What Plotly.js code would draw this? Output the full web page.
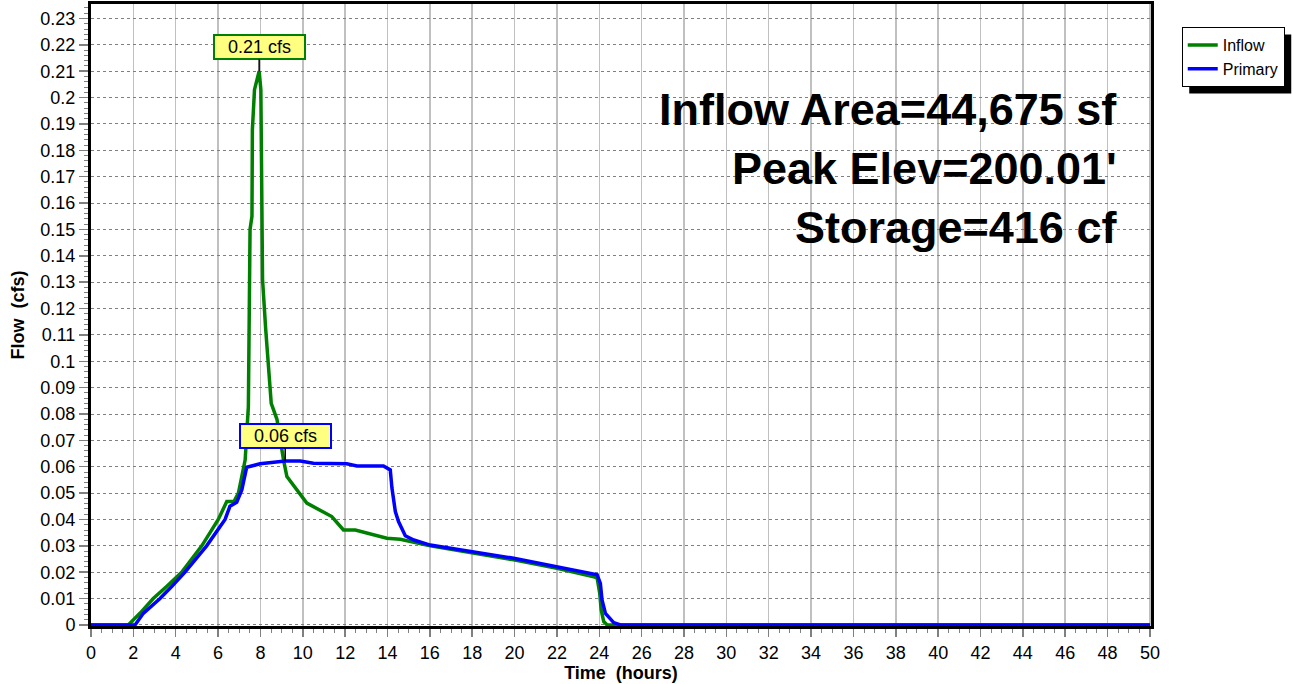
<!DOCTYPE html>
<html>
<head>
<meta charset="utf-8">
<script src="https://cdn.plot.ly/plotly-3.0.1.min.js"></script>
<style>
html,body{margin:0;padding:0;background:#fff;}
#chart{width:1294px;height:684px;}
</style>
</head>
<body>
<div id="chart"></div>
<script>
// Inflow hydrograph (hours, cfs)
var inflowTime = [0, 1.76, 2.31, 2.94, 3.57, 4.28, 5.23, 6.01, 6.41, 6.75, 6.96, 7.28, 7.43, 7.48, 7.51, 7.6, 7.62, 7.72, 7.94, 8.02, 8.07, 8.10, 8.25, 8.38, 8.51, 8.78, 9.0, 9.09, 9.25, 10.19, 11.37, 11.92, 12.48, 13.97, 14.6, 16.02, 19.96, 22.0, 23.74, 23.9, 24.02, 24.09, 24.21, 24.37, 50];
var inflowFlow = [0, 0, 0.0044, 0.01, 0.0146, 0.02, 0.03, 0.04, 0.0468, 0.0468, 0.05, 0.0626, 0.0828, 0.12, 0.150, 0.155, 0.1878, 0.203, 0.21, 0.203, 0.161, 0.131, 0.112, 0.097, 0.084, 0.078, 0.066, 0.0626, 0.0563, 0.0462, 0.0411, 0.036, 0.036, 0.0329, 0.0325, 0.030, 0.0247, 0.0215, 0.0183, 0.0177, 0.012, 0.0057, 0.0013, 0, 0];

// Primary outflow hydrograph (hours, cfs)
var primaryTime = [0, 2.08, 2.47, 3.26, 3.81, 4.44, 5.46, 6.33, 6.56, 6.88, 7.12, 7.22, 7.35, 7.98, 9.17, 9.88, 10.5, 12.08, 12.56, 13.81, 14.13, 14.21, 14.29, 14.37, 14.52, 14.84, 15.24, 16.02, 19.96, 22.0, 23.9, 24.05, 24.13, 24.29, 24.68, 25.0, 50];
var primaryFlow = [0, 0, 0.0044, 0.01, 0.0146, 0.02, 0.03, 0.04, 0.045, 0.0465, 0.0512, 0.055, 0.0598, 0.0611, 0.0622, 0.0622, 0.0613, 0.0611, 0.0603, 0.0603, 0.0588, 0.0519, 0.0470, 0.0430, 0.0392, 0.0338, 0.0322, 0.0303, 0.0253, 0.0219, 0.019, 0.0158, 0.0095, 0.0044, 0.0009, 0, 0];

var seriesNames = ["Inflow", "Primary"];
var peakLabels = ["0.21 cfs", "0.06 cfs"];
var peakTimes = [7.94, 9.17];
var peakFlows = [0.21, 0.0622];
var summaryLines = ["Inflow Area=44,675 sf", "Peak Elev=200.01'", "Storage=416 cf"];
var xTitle = "Time\u00a0 (hours)";
var yTitle = "Flow\u00a0 (cfs)";

var FONT = "Arial, 'Liberation Sans', sans-serif";

var traces = [
  {x: inflowTime, y: inflowFlow, name: seriesNames[0], type: "scatter", mode: "lines",
   line: {color: "#008000", width: 3.5}},
  {x: primaryTime, y: primaryFlow, name: seriesNames[1], type: "scatter", mode: "lines",
   line: {color: "#0000ff", width: 3.5}}
];

var annotations = [
  {x: peakTimes[0], y: peakFlows[0], xref: "x", yref: "y", text: peakLabels[0],
   showarrow: true, arrowhead: 0, arrowwidth: 1.5, arrowcolor: "#000", ax: 0, ay: -24,
   bgcolor: "#ffff80", bordercolor: "#008000", borderwidth: 2, borderpad: 2,
   width: 85, height: 18, font: {family: FONT, size: 18, color: "#000"}},
  {x: peakTimes[1], y: peakFlows[1], xref: "x", yref: "y", text: peakLabels[1],
   showarrow: true, arrowhead: 0, arrowwidth: 1.5, arrowcolor: "#000", ax: 0, ay: -25,
   bgcolor: "#ffff80", bordercolor: "#0000ff", borderwidth: 2, borderpad: 2,
   width: 85, height: 18, font: {family: FONT, size: 18, color: "#000"}}
];
var sumY = [0.831, 0.736, 0.641];
for (var i = 0; i < summaryLines.length; i++) {
  annotations.push({x: 0.970, y: sumY[i], xref: "paper", yref: "paper", text: "<b>" + summaryLines[i] + "</b>",
    showarrow: false, xanchor: "right", yanchor: "middle",
    font: {family: FONT, size: 45, color: "#000"}});
}

var layout = {
  width: 1294, height: 684,
  margin: {l: 91, r: 143, t: 4, b: 58},
  paper_bgcolor: "#ffffff", plot_bgcolor: "#ffffff",
  font: {family: FONT, size: 18, color: "#000"},
  showlegend: true,
  legend: {x: 1.029, y: 0.963, xanchor: "left", yanchor: "top",
    bgcolor: "#ffffff", bordercolor: "#000", borderwidth: 1,
    font: {family: FONT, size: 16, color: "#000"}, tracegroupgap: 0},
  xaxis: {
    range: [0, 50.05], dtick: 2, tick0: 0,
    showline: true, linecolor: "#000", linewidth: 3, mirror: true,
    showgrid: true, gridcolor: "#c0c0c0", gridwidth: 1.5, griddash: "solid",
    zeroline: false, layer: "below traces",
    ticks: "outside", ticklen: 8, tickcolor: "#808080", tickwidth: 1.5,
    tickfont: {family: FONT, size: 18, color: "#000"},
    minor: {dtick: 0.5, ticks: "outside", ticklen: 4, tickcolor: "#808080", tickwidth: 1, showgrid: false},
    title: {text: "<b>" + xTitle + "</b>", font: {family: FONT, size: 18, color: "#000"}, standoff: 0}
  },
  yaxis: {
    range: [-0.0004, 0.2355], dtick: 0.01, tick0: 0,
    showline: true, linecolor: "#000", linewidth: 3, mirror: true,
    showgrid: true, gridcolor: "#808080", gridwidth: 1, griddash: "dot",
    zeroline: false, layer: "below traces",
    ticks: "outside", ticklen: 9, tickcolor: "#808080", tickwidth: 1.5,
    tickfont: {family: FONT, size: 18, color: "#000"},
    minor: {dtick: 0.002, ticks: "outside", ticklen: 4, tickcolor: "#808080", tickwidth: 1, showgrid: false},
    title: {text: "<b>" + yTitle + "</b>", font: {family: FONT, size: 18, color: "#000"}, standoff: 12}
  },
  annotations: annotations
};

Plotly.newPlot("chart", traces, layout, {displayModeBar: false, staticPlot: true}).then(function (gd) {
  // drop shadow behind the legend box, sized from the drawn legend
  var bg = gd.querySelector(".legend .bg");
  if (!bg) return;
  var r = bg.getBoundingClientRect();
  var host = gd.getBoundingClientRect();
  var fs = gd._fullLayout._size;
  var off = 7;
  function px2x(p) { return (p - host.left - fs.l) / fs.w; }
  function py2y(p) { return 1 - (p - host.top - fs.t) / fs.h; }
  Plotly.relayout(gd, {shapes: [{type: "rect", xref: "paper", yref: "paper",
    x0: px2x(r.left + off), x1: px2x(r.right + off), y0: py2y(r.bottom + off), y1: py2y(r.top + off),
    fillcolor: "#000", line: {width: 0}, layer: "above"}]});
});
</script>
</body>
</html>
